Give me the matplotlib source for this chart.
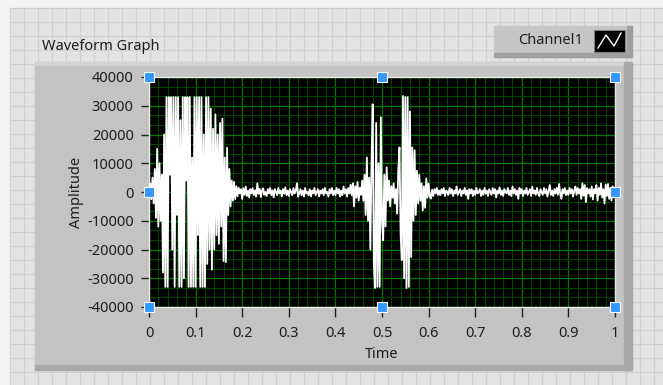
import numpy as np
import matplotlib
matplotlib.use('Agg')
import matplotlib.pyplot as plt
from matplotlib.patches import Rectangle
from matplotlib.ticker import MultipleLocator

# Waveform samples (t0 = 0, dt = 0.0025 s)
dt = 0.0025
block_00 = [0, 3000, -2500, 5000, -4000, 8000, -9000, 15000, -12000, 10000,
            -10000, 6000, -28000, 20000, -33000, 33000, -33000, 33000, 6000, 33000,
            -20000, 33000, -33000, 33000, -8000, 33000, -33000, 25000, -33000, 33000,
            -30000, 33000, 4000, 33000, -33000, 33000, -33000, 12000, -33000, 33000]
block_01 = [-33000, 33000, -15000, 33000, -33000, 33000, -33000, 20000, -33000, 33000,
            -25000, 33000, -20000, 29000, -27000, 22000, -20000, 27000, -15000, 20000,
            -18000, 24000, -12000, 25500, -24000, 12000, -24400, 15400, -8000, 8000,
            -5000, 4000, -3000, 3500, -2500, 2000, -1500, 1500, -500, 1000]
block_02 = [-2400, 1300, -1000, 1900, -1400, 500, -1900, 1000, -500, 1400,
            -1100, 600, -1600, 3000, -600, 1100, -1800, 500, 1300, -1000,
            0, -1400, 1000, -500, 1400, -1100, 600, -1900, 1000, 0,
            -1100, 1400, -500, 500, -1600, 1000, -600, 1600, -1100, 500]
block_03 = [-1400, 1000, 0, -1100, 1400, -500, 500, 3000, -1600, -500,
            1000, -1100, 500, -1600, 1400, -500, 0, -1100, 1000, -1600,
            500, -500, 1400, -1100, 0, 1000, -1600, 500, -500, 1000,
            -1100, 1400, -500, 0, -1600, 1000, -500, 1400, -1100, 500]
block_04 = [-1100, 1400, -500, 1000, -1600, 500, -1100, 1900, -500, 1000,
            -1600, 1400, -500, 2500, -1100, 3000, -5000, 2000, -2000, 3500,
            -3000, 1500, -1000, 4000, -3000, 6000, -8000, 12000, -10000, 5000,
            -20000, 10000, 30500, -25000, -33400, 24000, -33000, 10000, -33000, 26000]
block_05 = [-10000, -16800, 6000, -12000, 8600, -3000, 4000, -5000, 2000, -2000,
            3000, -4000, 1000, -7500, 8000, 15500, -15000, -23700, 33400, -30000,
            33000, -33400, 33000, -33000, 28000, -22600, 15500, -10000, 14500, -8000,
            7400, -4000, 6000, -3000, 3000, -6400, 2000, -5500, 4700, -2000]
block_06 = [3000, -1600, -2300, 800, -1400, 1000, -500, 1400, -1000, 500,
            -1100, 1000, -500, 1400, -1400, 500, 0, -1000, 1400, -500,
            1000, -1400, 500, -500, 1900, -1000, 0, 1000, -1400, 500,
            -500, 1400, -1000, 500, -2400, 1000, -500, 1000, -1400, 500]
block_07 = [-1000, 1400, -500, 0, 1000, -1400, 500, -1000, 1400, -500,
            500, -1400, 1000, 0, -1000, 1400, -500, 1000, -1900, 500,
            -500, 1600, -1000, 500, -1400, 1000, 0, -500, 1400, -1000,
            500, -1400, 1900, -500, 1000, -1000, 500, -2400, 1400, -500]
block_08 = [1000, -1400, 500, -500, 1400, -1000, 0, 1000, -1400, 1900,
            -500, 500, -1000, 1400, -500, -1400, 1000, 0, -1000, 1400,
            -500, 1000, -1600, 500, 2400, -1000, 500, -1400, 1000, -500,
            1400, -1000, 2800, -500, -2400, 1000, -500, 1400, -1100, 500]
block_09 = [-1000, 1400, -500, 1000, -1600, 500, 1900, -1000, 1400, -500,
            1000, -2400, 3000, -1300, 2400, -3500, 1400, -500, 1000, -1600,
            1900, -2600, 1000, -500, 2400, -3000, 1400, -1000, 3000, -1900,
            1000, -4000, 2600, -1400, 2800, -2400, 1400, -3000, 2000, -1000]
last_sample = [500]

amplitude = np.array(block_00 + block_01 + block_02 + block_03 + block_04 + block_05
                     + block_06 + block_07 + block_08 + block_09 + last_sample, dtype=float)
time = np.arange(len(amplitude)) * dt

x_ticks = [0, 0.1, 0.2, 0.3, 0.4, 0.5, 0.6, 0.7, 0.8, 0.9, 1]
x_tick_labels = ['0', '0.1', '0.2', '0.3', '0.4', '0.5', '0.6', '0.7', '0.8', '0.9', '1']
y_ticks = [40000, 30000, 20000, 10000, 0, -10000, -20000, -30000, -40000]
y_tick_labels = ['40000', '30000', '20000', '10000', '0', '-10000', '-20000', '-30000', '-40000']
# scale-range handles shown at the plot corners / midpoints
handle_x = [0, 0.5, 1, 0, 1, 0, 0.5, 1]
handle_y = [40000, 40000, 40000, 0, 0, -40000, -40000, -40000]

plt.rcParams['font.family'] = ['Noto Sans', 'DejaVu Sans']
text_col = '#1e1e1e'
fs = 10.5

W, H = 663, 385
fig = plt.figure(figsize=(W / 100, H / 100), dpi=100)

# front panel background (pixel coordinates)
bg = fig.add_axes([0, 0, 1, 1])
bg.set_xlim(0, W)
bg.set_ylim(H, 0)
bg.axis('off')
bg.add_patch(Rectangle((0, 0), W, H, color='#f4f4f4', zorder=0))
bg.add_patch(Rectangle((10, 8), W - 10, H - 8, color='#e3e3e3', zorder=0))
for gx in range(10, W, 14):
    bg.plot([gx, gx], [8, H], color='#cfcfcf', lw=0.8, zorder=1)
for gy in range(8, H, 14):
    bg.plot([10, W], [gy, gy], color='#cfcfcf', lw=0.8, zorder=1)

# graph panel
bg.add_patch(Rectangle((35, 62), 597, 308, color='#c3c3c3', zorder=3))
bg.add_patch(Rectangle((35, 62), 597, 3, color='#d2d2d2', zorder=3))
bg.add_patch(Rectangle((624, 62), 8, 308, color='#a9a9a9', zorder=3))
bg.add_patch(Rectangle((35, 365), 597, 5, color='#a9a9a9', zorder=3))
bg.text(42, 46, 'Waveform Graph', fontsize=fs, color=text_col, ha='left', va='center', zorder=4)

# plot legend button
bg.add_patch(Rectangle((494, 26), 138, 31, color='#c6c6c6', zorder=3))
bg.add_patch(Rectangle((627, 26), 5, 31, color='#9e9e9e', zorder=3))
bg.add_patch(Rectangle((494, 53), 138, 4, color='#9e9e9e', zorder=3))
bg.text(551, 41, 'Channel1', fontsize=fs, color=text_col, ha='center', va='center', zorder=4)
bg.add_patch(Rectangle((594, 30), 31, 22, facecolor='black', edgecolor='#808080', lw=0.8, zorder=4))
bg.plot([598, 606, 614, 621], [48, 35, 46, 33], color='white', lw=1.0, zorder=5)

# plot area
ax = fig.add_axes([149 / W, (H - 307) / H, 466 / W, 230 / H])
ax.set_facecolor('black')
ax.plot(time, amplitude, color='white', lw=1.3, zorder=3)
ax.set_xlim(0, 1)
ax.set_ylim(-40000, 40000)

ax.set_xticks(x_ticks)
ax.set_xticklabels(x_tick_labels)
ax.set_yticks(y_ticks)
ax.set_yticklabels(y_tick_labels)
ax.xaxis.set_minor_locator(MultipleLocator(0.02))
ax.yaxis.set_minor_locator(MultipleLocator(10000 / 3))
ax.grid(which='minor', color='#004400', lw=0.8, zorder=1)
ax.grid(which='major', color='#007800', lw=0.9, zorder=2)
ax.tick_params(which='minor', length=0)
ax.tick_params(axis='x', which='major', direction='out', length=7, width=1, color=text_col,
               labelsize=fs, labelcolor=text_col, pad=7)
ax.tick_params(axis='y', which='major', direction='out', length=6, width=1, color=text_col,
               labelsize=fs, labelcolor=text_col, pad=5)
for s in ax.spines.values():
    s.set_color('#e8e8e8')
    s.set_linewidth(1)

ax.plot(handle_x, handle_y, ls='none', marker='s', ms=6.5, mfc='#3399ff', mec='white',
        mew=0.8, clip_on=False, zorder=5)

fig.text(76 / W, 1 - 192 / H, 'Amplitude', rotation=90, fontsize=fs, color=text_col,
         ha='center', va='center')
fig.text(382 / W, 1 - 354 / H, 'Time', fontsize=fs, color=text_col, ha='center', va='center')

fig.savefig('out.png', dpi=100)
